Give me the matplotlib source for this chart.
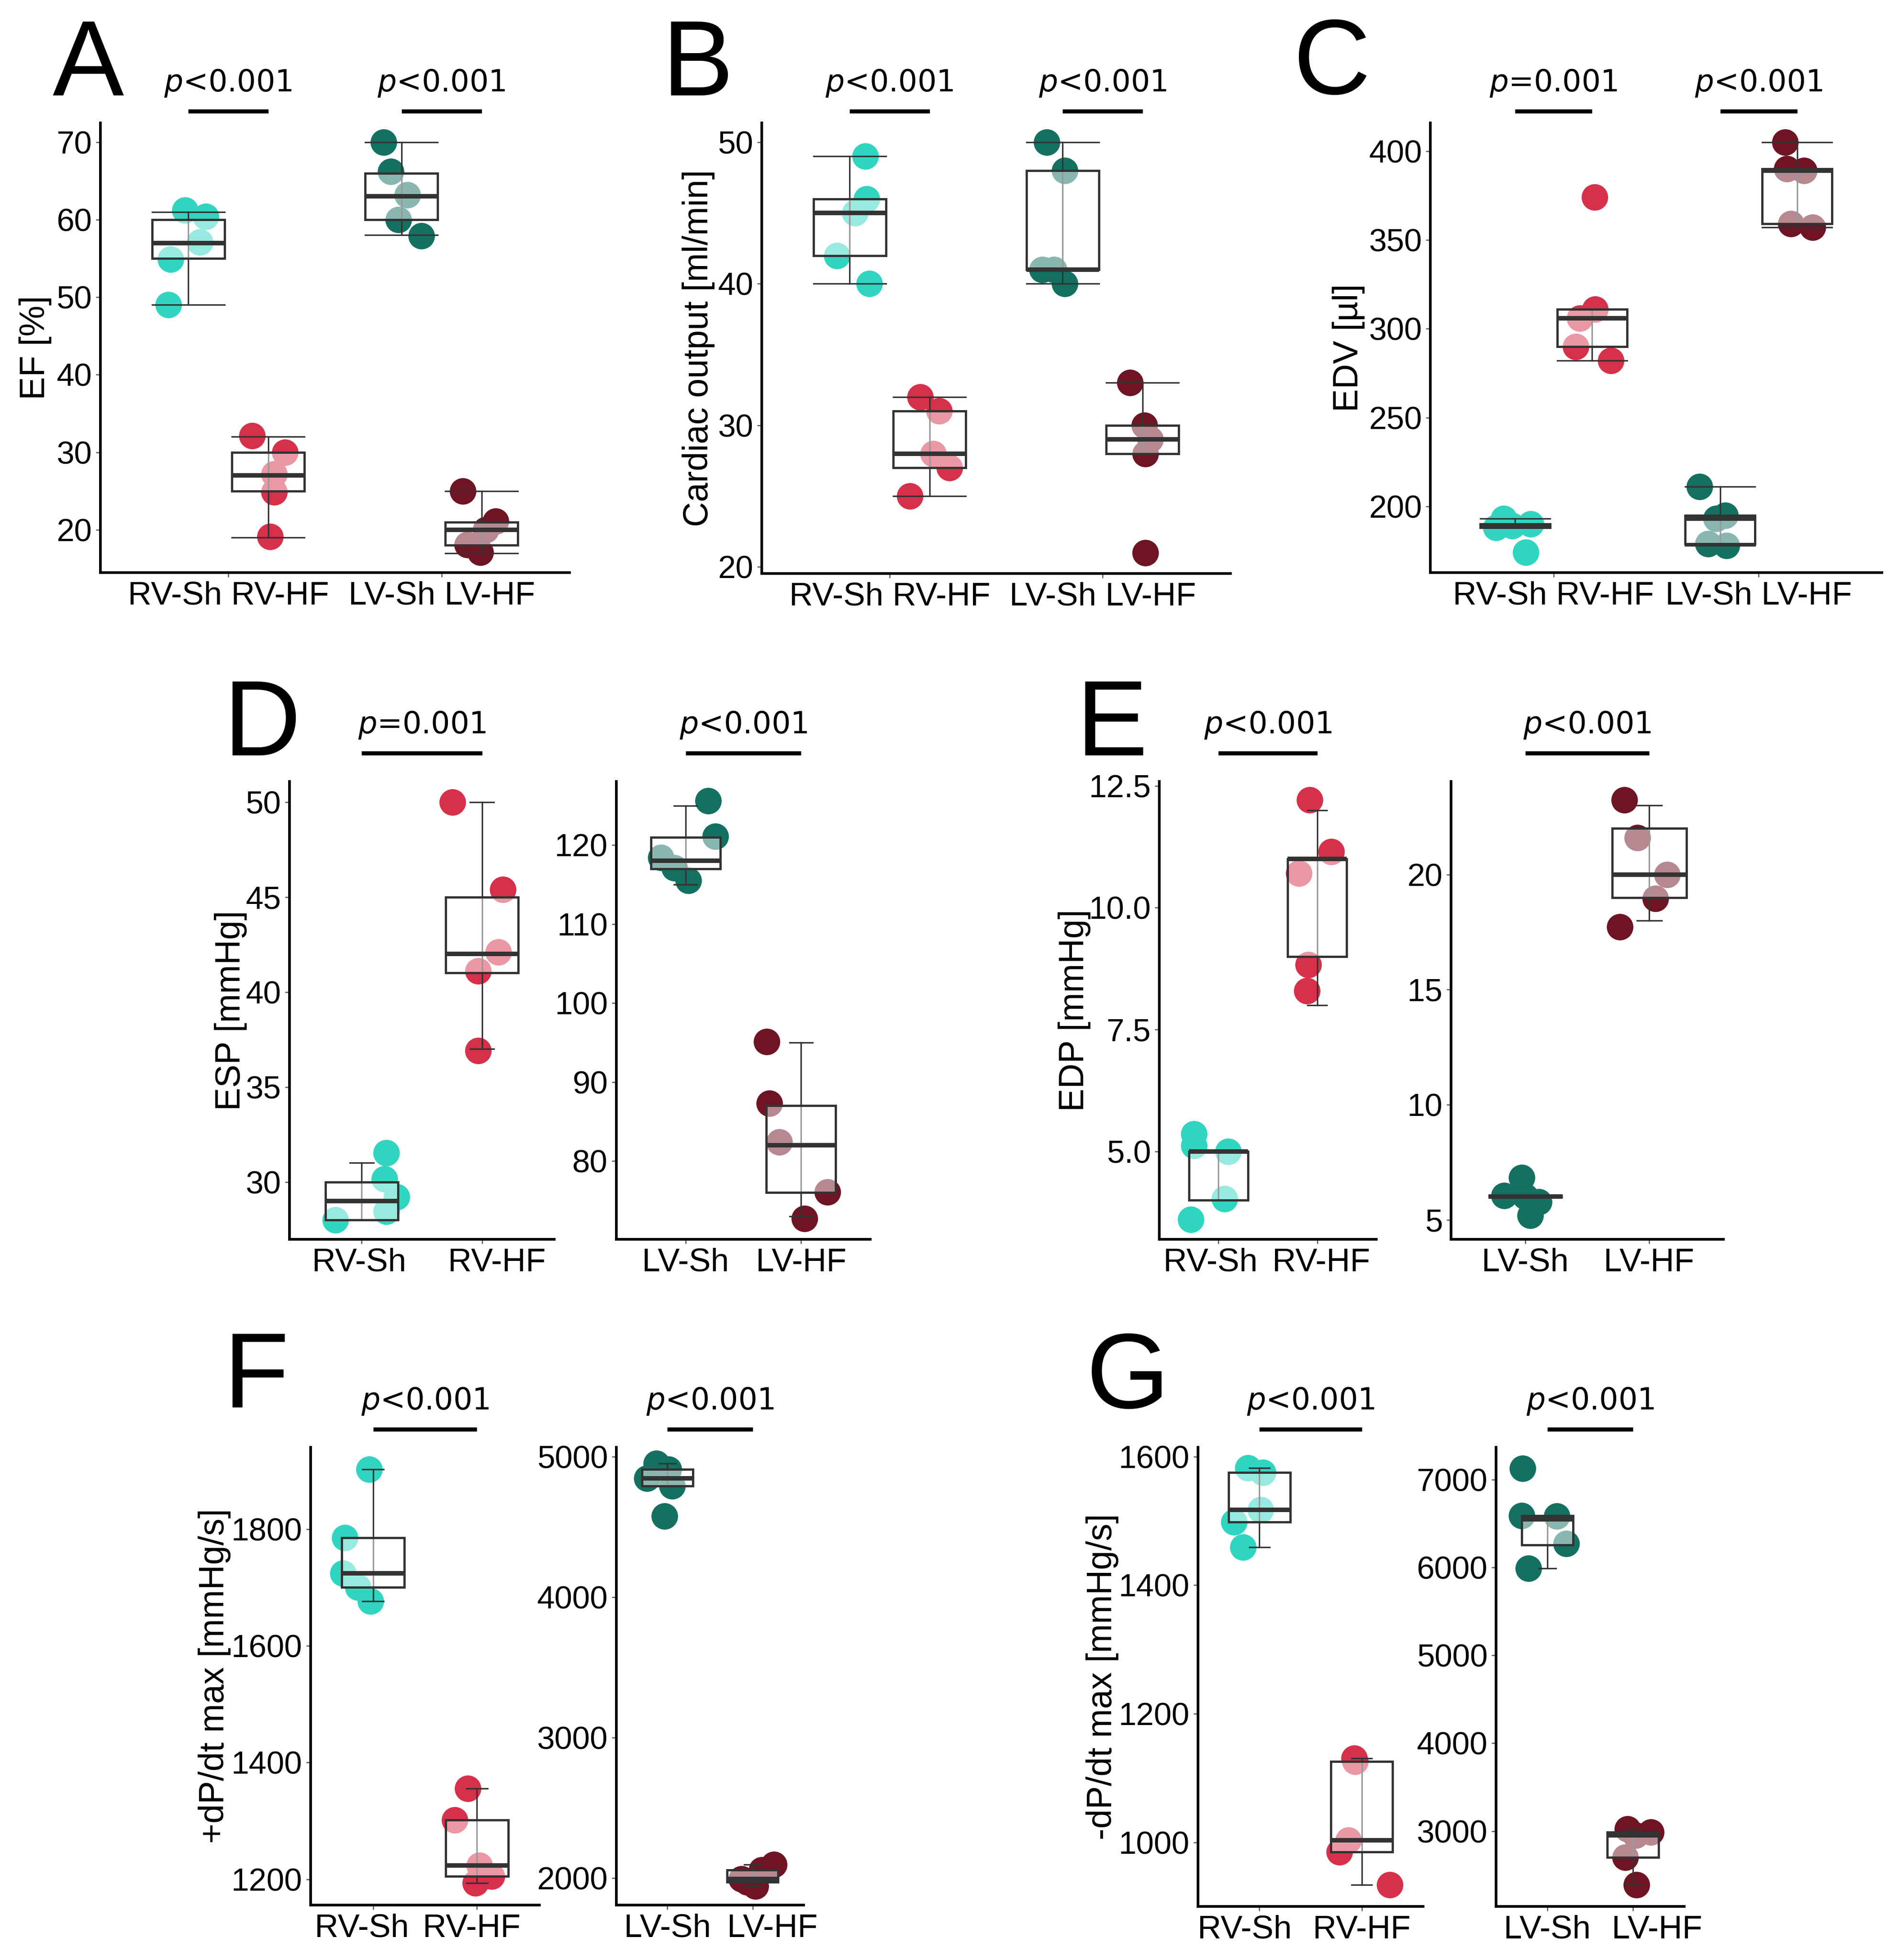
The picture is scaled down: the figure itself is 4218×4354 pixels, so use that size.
import numpy as np
import matplotlib
matplotlib.use('Agg')
import matplotlib.pyplot as plt
from matplotlib.patches import Rectangle
from matplotlib.transforms import blended_transform_factory

plt.rcParams['font.family'] = ['Liberation Sans', 'DejaVu Sans']
plt.rcParams['mathtext.fontset'] = 'dejavusans'

# ---- data (values per group: RV-Sh, RV-HF, LV-Sh, LV-HF) ----
ef = [[61, 60, 57, 55, 49], [32, 30, 27, 25, 19],
      [70, 66, 63, 60, 58], [25, 21, 20, 18, 17]]
ef_dx = [[-0.015, 0.083, 0.055, -0.083, -0.092], [-0.075, 0.079, 0.028, 0.028, 0.009],
         [-0.085, -0.051, 0.028, -0.015, 0.094], [-0.087, 0.066, 0.019, -0.066, -0.006]]
ef_dy = [[0.2, 0.4, 0.1, -0.1, 0], [0.1, 0, 0.2, -0.1, 0.1],
         [0, 0.2, 0.2, 0, -0.1], [0, 0.1, 0, 0.1, 0.1]]

co = [[49, 46, 45, 42, 40], [32, 31, 28, 27, 25],
      [50, 48, 41, 41, 40], [33, 30, 29, 28, 21]]
co_dx = [[0.074, 0.079, 0.026, -0.059, 0.093], [-0.043, 0.045, 0.017, 0.093, -0.093],
         [-0.074, 0.009, -0.095, -0.04, 0.009], [-0.059, 0.008, 0.036, 0.013, 0.013]]

edv = [[193, 190, 189, 188, 174], [374, 311, 306, 290, 282],
       [211, 195, 193, 179, 178], [405, 390, 389, 359, 357]]
edv_dx = [[-0.054, 0.076, -0.014, -0.093, 0.052], [0.014, 0.016, -0.06, -0.08, 0.093],
          [-0.1, 0.024, -0.02, -0.06, 0.03], [-0.06, -0.05, 0.034, -0.03, 0.074]]

esp_rv = [[31, 30, 29, 28, 28], [50, 45, 42, 41, 37]]
esp_rv_dx = [[0.205, 0.19, 0.29, 0.205, -0.22], [-0.246, 0.174, 0.136, -0.034, -0.034]]
esp_rv_dy = [[0.54, 0.15, 0.2, 0.46, 0.0], [0, 0.4, 0.1, 0.1, -0.1]]
esp_lv = [[125, 121, 118, 117, 115], [95, 87, 82, 76, 73]]
esp_lv_dx = [[0.194, 0.26, -0.213, -0.095, 0.024], [-0.296, -0.273, -0.186, 0.229, 0.032]]
esp_lv_dy = [[0.6, 0.1, 0.4, 0.1, 0.5], [0.1, 0.3, 0.4, 0.1, -0.3]]

edp_rv = [[5, 5, 5, 4, 4], [12, 11, 11, 9, 8]]
edp_rv_dx = [[-0.25, -0.25, 0.10, 0.06, -0.28], [-0.077, 0.145, -0.183, -0.089, -0.102]]
edp_rv_dy = [[0.36, 0.12, 0.0, 0.03, -0.4], [0.21, 0.15, -0.29, -0.17, 0.29]]
edp_lv = [[7, 6, 6, 6, 5], [23, 22, 20, 19, 18]]
edp_lv_dx = [[-0.03, -0.17, 0.11, 0.0, 0.04], [-0.2, -0.096, 0.144, 0.052, -0.237]]
edp_lv_dy = [[-0.18, 0.04, -0.22, 0.0, 0.18], [0.24, -0.4, 0.0, -0.05, -0.27]]

dpmax_rv = [[1902, 1785, 1724, 1700, 1676], [1356, 1302, 1224, 1205, 1194]]
dpmax_rv_dx = [[-0.036, -0.27, -0.29, -0.147, -0.022], [-0.089, -0.213, 0.022, 0.142, -0.013]]
dpmax_lv = [[4950, 4908, 4844, 4792, 4576], [2095, 2058, 1994, 1971, 1943]]
dpmax_lv_dx = [[-0.13, 0.015, -0.24, 0.057, -0.036], [0.25, 0.11, -0.13, -0.06, 0.035]]

dpmin_rv = [[1582, 1575, 1517, 1498, 1459], [1131, 1126, 1003, 985, 934]]
dpmin_rv_dx = [[-0.11, 0.035, 0.013, -0.25, -0.16], [-0.075, -0.066, -0.13, -0.22, 0.276]]
dpmin_lv = [[7130, 6590, 6550, 6255, 5990], [3023, 2986, 2954, 2700, 2390]]
dpmin_lv_dx = [[-0.29, -0.3, 0.11, 0.22, -0.22], [-0.065, 0.21, 0.03, -0.087, 0.043]]
dpmin_lv_dy = [[0, 0, 35, 16, 0], [0, 0, 0, 0, 0]]

rv_colors = ['#30D5C0', '#D7304A']
lv_colors = ['#147060', '#6E1423']

W, H = 4218, 4354
fig = plt.figure(figsize=(W / 300, H / 300), dpi=300)


def rect(x0, x1, y0, y1):
    return [x0 / W, 1 - y1 / H, (x1 - x0) / W, (y1 - y0) / H]


def make_axes(x0, x1, y0, y1, ylim, yticks, ylabel, label_px, ticklabels=None):
    ax = fig.add_axes(rect(x0, x1, y0, y1))
    for s in ['top', 'right']:
        ax.spines[s].set_visible(False)
    for s in ['left', 'bottom']:
        ax.spines[s].set_linewidth(1.4)
        ax.spines[s].set_color('black')
    ax.set_xlim(0.4, 2.6)
    ax.set_ylim(*ylim)
    ax.set_yticks(yticks)
    if ticklabels is not None:
        ax.set_yticklabels(ticklabels)
    ax.tick_params(labelsize=17, length=2.5, width=0.6, color='#555555',
                   labelcolor='black', pad=2)
    ax.tick_params(axis='x', labelsize=17.5)
    ax.set_ylabel(ylabel, fontsize=18.5)
    ax.yaxis.set_label_coords((label_px - x0) / (x1 - x0), 0.5)
    return ax


def draw_groups(ax, positions, groups, dxs, dys, colors, box_w, cap_w):
    for pos, vals, dx, dy, col in zip(positions, groups, dxs, dys, colors):
        vals = np.asarray(vals, float)
        ax.scatter(pos + np.asarray(dx), vals + np.asarray(dy), s=200,
                   color=col, lw=0, zorder=2, clip_on=False)
        q1, med, q3 = np.percentile(vals, [25, 50, 75])
        iqr = q3 - q1
        lo = vals[vals >= q1 - 1.5 * iqr].min()
        hi = vals[vals <= q3 + 1.5 * iqr].max()
        ax.plot([pos, pos], [lo, hi], color='#333333', lw=0.8, zorder=3)
        for v in (lo, hi):
            ax.plot([pos - cap_w / 2, pos + cap_w / 2], [v, v],
                    color='#333333', lw=0.8, zorder=3)
        ax.add_patch(Rectangle((pos - box_w / 2, q1), box_w, q3 - q1,
                               facecolor=(1, 1, 1, 0.5), edgecolor='#333333',
                               lw=1.2, zorder=4))
        ax.plot([pos - box_w / 2, pos + box_w / 2], [med, med], color='#333333',
                lw=2.4, zorder=5, solid_capstyle='butt')


def add_p(ax, x1, x2, text, bar_px):
    tr = blended_transform_factory(ax.transData, fig.transFigure)
    ax.plot([x1, x2], [1 - bar_px / H] * 2, color='black', lw=2.2,
            transform=tr, clip_on=False, solid_capstyle='butt')
    ax.text((x1 + x2) / 2, 1 - (bar_px - 28) / H, text, transform=tr,
            ha='center', va='bottom', fontsize=16, family='DejaVu Sans')


def letter(x_px, y_px, s):
    fig.text(x_px / W, 1 - y_px / H, s, fontsize=57, ha='left', va='baseline')


zero = [[0] * 5] * 4
four_pos = [0.8125, 1.1875, 1.8125, 2.1875]
four_cols = [rv_colors[0], rv_colors[1], lv_colors[0], lv_colors[1]]
pair_labels = ['RV-Sh RV-HF', 'LV-Sh LV-HF']


def four_panel(x0, x1, y0, y1, vals, dx, dy, ylim, yticks, ylabel, label_px, ptexts):
    ax = make_axes(x0, x1, y0, y1, ylim, yticks, ylabel, label_px)
    draw_groups(ax, four_pos, vals, dx, dy, four_cols, 0.34, 0.34)
    ax.set_xticks([1, 2])
    ax.set_xticklabels(pair_labels)
    add_p(ax, four_pos[0], four_pos[1], ptexts[0], 246.6)
    add_p(ax, four_pos[2], four_pos[3], ptexts[1], 246.6)
    return ax


def two_panel(x0, x1, y0, y1, vals, dx, dy, cols, labels, ylim, yticks, ylabel,
              label_px, ptext, bar_px, label_shift=(0, 0), ticklabels=None):
    ax = make_axes(x0, x1, y0, y1, ylim, yticks, ylabel, label_px, ticklabels)
    draw_groups(ax, [1, 2], vals, dx, dy, cols, 0.6, 0.2)
    ax.xaxis.remove_overlapping_locs = False
    ax.set_xticks([1, 2])
    ax.set_xticklabels(['', ''])
    ax.set_xticks([1 + label_shift[0], 2 + label_shift[1]], minor=True)
    ax.set_xticklabels(labels, minor=True)
    ax.tick_params(axis='x', which='minor', length=0, pad=4.5, labelsize=17.5)
    add_p(ax, 1, 2, ptext, bar_px)
    return ax


# A, B, C
four_panel(222.6, 1265, 272.6, 1272, ef, ef_dx, ef_dy, (14.48, 72.5),
           range(20, 71, 10), 'EF [%]', 115, ['$p$<0.001', '$p$<0.001'])
four_panel(1692, 2733, 272.6, 1274, co, co_dx, zero, (19.53, 51.38),
           [20, 30, 40, 50], 'Cardiac output [ml/min]', 1588, ['$p$<0.001', '$p$<0.001'])
four_panel(3177, 4180, 272.6, 1272, edv, edv_dx, zero, (162.7, 416),
           range(200, 401, 50), 'EDV [µl]', 3032, ['$p$=0.001', '$p$<0.001'])
letter(117, 212, 'A')
letter(1470, 212, 'B')
letter(2873, 209, 'C')

rv_labels = ['RV-Sh', 'RV-HF']
lv_labels = ['LV-Sh', 'LV-HF']

# D
two_panel(643, 1231, 1736, 2753, esp_rv, esp_rv_dx, esp_rv_dy, rv_colors, rv_labels,
          (26.98, 51.08), [30, 35, 40, 45, 50], 'ESP [mmHg]', 549, '$p$=0.001', 1673,
          label_shift=(-0.02, 0.125))
two_panel(1369, 1933, 1736, 2753, esp_lv, esp_lv_dx, esp_lv_dy, lv_colors, lv_labels,
          (70.1, 128.05), [80, 90, 100, 110, 120], '', 1300, '$p$<0.001', 1673)
letter(497, 1678, 'D')

# E
two_panel(2575, 3057, 1736, 2753, edp_rv, edp_rv_dx, edp_rv_dy, rv_colors, rv_labels,
          (3.195, 12.59), [5.0, 7.5, 10.0, 12.5], 'EDP [mmHg]', 2423, '$p$<0.001', 1673,
          label_shift=(-0.08, 0.04), ticklabels=['5.0', '7.5', '10.0', '12.5'])
two_panel(3223, 3828, 1736, 2753, edp_lv, edp_lv_dx, edp_lv_dy, lv_colors, lv_labels,
          (4.15, 24.04), [5, 10, 15, 20], '', 3150, '$p$<0.001', 1673)
letter(2390, 1678, 'E')

# F
two_panel(690, 1198, 3215, 4232, dpmax_rv, dpmax_rv_dx, [[0] * 5] * 2, rv_colors, rv_labels,
          (1156, 1940), [1200, 1400, 1600, 1800], '+dP/dt max [mmHg/s]', 513,
          '$p$<0.001', 3175, label_shift=(-0.11, -0.05))
two_panel(1369, 1785, 3215, 4232, dpmax_lv, dpmax_lv_dx, [[0] * 5] * 2, lv_colors, lv_labels,
          (1807, 5066), [2000, 3000, 4000, 5000], '', 1300, '$p$<0.001', 3175,
          label_shift=(0, 0.23))
letter(497, 3125, 'F')

# G
two_panel(2661, 3161, 3215, 4235, dpmin_rv, dpmin_rv_dx, [[0] * 5] * 2, rv_colors, rv_labels,
          (900.4, 1614.5), [1000, 1200, 1400, 1600], '-dP/dt max [mmHg/s]', 2485,
          '$p$<0.001', 3175, label_shift=(-0.145, 0))
two_panel(3323, 3741, 3215, 4235, dpmin_lv, dpmin_lv_dx, dpmin_lv_dy, lv_colors, lv_labels,
          (2142, 7369), [3000, 4000, 5000, 6000, 7000], '', 3250, '$p$<0.001', 3175,
          label_shift=(0, 0.28))
letter(2413, 3128, 'G')

fig.savefig('out.png', dpi=300, facecolor='white')
